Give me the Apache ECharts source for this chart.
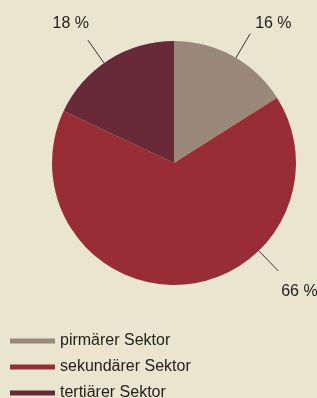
<!DOCTYPE html>
<html>
<head>
<meta charset="utf-8">
<script src="https://cdn.jsdelivr.net/npm/echarts@6/dist/echarts.min.js"></script>
<style>
  html, body { margin: 0; padding: 0; background: #e9e5cf; }
  #chart { width: 317px; height: 398px; }
</style>
</head>
<body>
<div id="chart"></div>
<script>
  // Daten
  var sectors = ['pirmärer Sektor', 'sekundärer Sektor', 'tertiärer Sektor'];
  var shares = [16, 66, 18];
  var colors = ['#9a887a', '#982d35', '#682a38'];

  var cx = 174, cy = 163, r = 122;
  var lineLen = 28;
  // Winkel der Führungslinien (Grad ab oben, im Uhrzeigersinn)
  var labelAngles = [30.5, 136, 325];
  // Textversatz gegenüber dem Linienende
  var labelOffsets = [[5, -10], [3, 21], [1, -17]];

  var myChart = echarts.init(document.getElementById('chart'));

  var seriesData = sectors.map(function (name, i) {
    return { name: name, value: shares[i], itemStyle: { color: colors[i] } };
  });

  var options = {
    backgroundColor: '#e9e5cf',
    animation: false,
    legend: {
      orient: 'vertical',
      left: 10,
      top: 333,
      height: 80,
      padding: 0,
      itemWidth: 45,
      itemHeight: 5,
      itemGap: 10,
      icon: 'rect',
      data: sectors,
      textStyle: {
        fontFamily: 'Liberation Sans, Arial, sans-serif',
        fontSize: 16,
        color: '#222'
      }
    },
    series: [
      {
        type: 'pie',
        center: [cx, cy],
        radius: r,
        startAngle: 90,
        clockwise: true,
        data: seriesData,
        label: {
          show: true,
          position: 'outside',
          formatter: '{c} %',
          overflow: 'none',
          width: 60,
          fontFamily: 'Liberation Sans, Arial, sans-serif',
          fontSize: 16,
          color: '#222'
        },
        labelLine: {
          show: true,
          lineStyle: { color: '#333', width: 1 }
        },
        labelLayout: function (params) {
          var i = params.dataIndex;
          var a = labelAngles[i] * Math.PI / 180;
          var sx = Math.sin(a), sy = -Math.cos(a);
          var p1 = [cx + r * sx, cy + r * sy];
          var p2 = [cx + (r + lineLen) * sx, cy + (r + lineLen) * sy];
          var right = sx >= 0;
          return {
            x: p2[0] + labelOffsets[i][0],
            y: p2[1] + labelOffsets[i][1],
            align: right ? 'left' : 'right',
            verticalAlign: 'middle',
            labelLinePoints: [p1, p2, p2]
          };
        }
      }
    ]
  };

  myChart.setOption(options);
</script>
</body>
</html>
